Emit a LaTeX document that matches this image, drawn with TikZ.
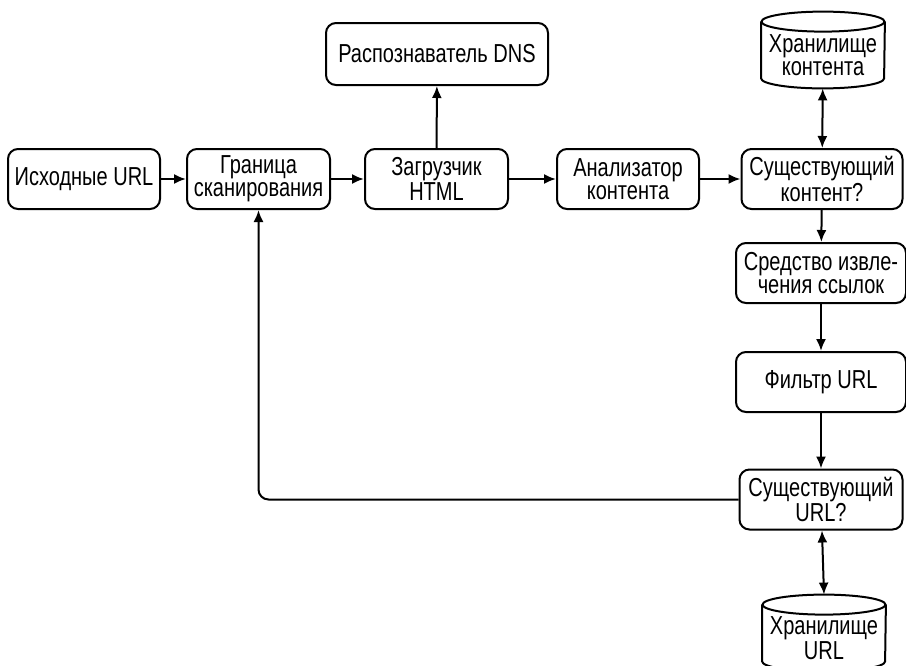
\documentclass[tikz,border=0pt]{standalone}
\usepackage{fontspec}
\setmainfont{Liberation Sans}[FakeStretch=0.77]
\usetikzlibrary{arrows.meta}
\tikzset{
box/.style={
  draw, rounded corners=5pt, line width=1pt,
  align=center, inner sep=1pt,
  minimum height=30pt,
  font=\fontsize{13}{11.6}\selectfont
  },
store/.style={
  align=center, inner sep=1pt,
  minimum width=61.5pt, minimum height=33pt,
  font=\fontsize{13}{11.6}\selectfont,
  append after command={\pgfextra{\let\cyl\tikzlastnode
    \draw[line width=1pt] (\cyl.north) ellipse [x radius=30.75pt, y radius=5pt];
    \draw[line width=1pt] (\cyl.north west) -- ([yshift=5pt]\cyl.south west)
      arc [start angle=180, end angle=360, x radius=30.75pt, y radius=5pt]
      -- (\cyl.north east);
  }}
  },
link/.style={-{Latex[length=6pt,width=5pt]}, line width=1pt},
twoway/.style={{Latex[length=6pt,width=5pt]}-{Latex[length=6pt,width=5pt]}, line width=1pt}
}

\begin{document}
\begin{tikzpicture}[x=0.5pt,y=-0.5pt]
\useasboundingbox (0,0) rectangle (906,665);

\node[box,minimum width=76pt] (seed) at (84,179) {Исходные URL};
\node[box,minimum width=71.5pt] (frontier) at (258.5,179) {Граница\\сканирования};
\node[box,minimum width=71.5pt] (fetcher) at (436.5,179) {Загрузчик\\HTML};
\node[box,minimum width=111pt,minimum height=31pt] (dns) at (437,54) {Распознаватель DNS};
\node[box,minimum width=71pt] (parser) at (628,179) {Анализатор\\контента};
\node[box,minimum width=80.5pt] (seen) at (822,179) {Существующий\\контент?};
\node[store] (cstore) at (823,55) {Хранилище\\контента};
\node[box,minimum width=85pt] (extract) at (821,273) {Средство извле-\\чения ссылок};
\node[box,minimum width=85pt] (filter) at (821,382) {Фильтр URL};
\node[box,minimum width=81.5pt] (urlseen) at (821,499.5) {Существующий\\URL?};
\node[store] (ustore) at (824,638) {Хранилище\\URL};

\draw[link] (seed) -- (frontier);
\draw[link] (frontier) -- (fetcher);
\draw[link] (fetcher) -- (dns);
\draw[link] (fetcher) -- (parser);
\draw[link] (parser) -- (seen);
\draw[twoway] (seen) -- (cstore);
\draw[link] (seen) -- (extract);
\draw[link] (extract) -- (filter);
\draw[link] (filter) -- (urlseen);
\draw[twoway] (urlseen) -- ([yshift=5pt]ustore.north);
\draw[link,rounded corners=5pt] (urlseen.west) -| (frontier);
\end{tikzpicture}
\end{document}
